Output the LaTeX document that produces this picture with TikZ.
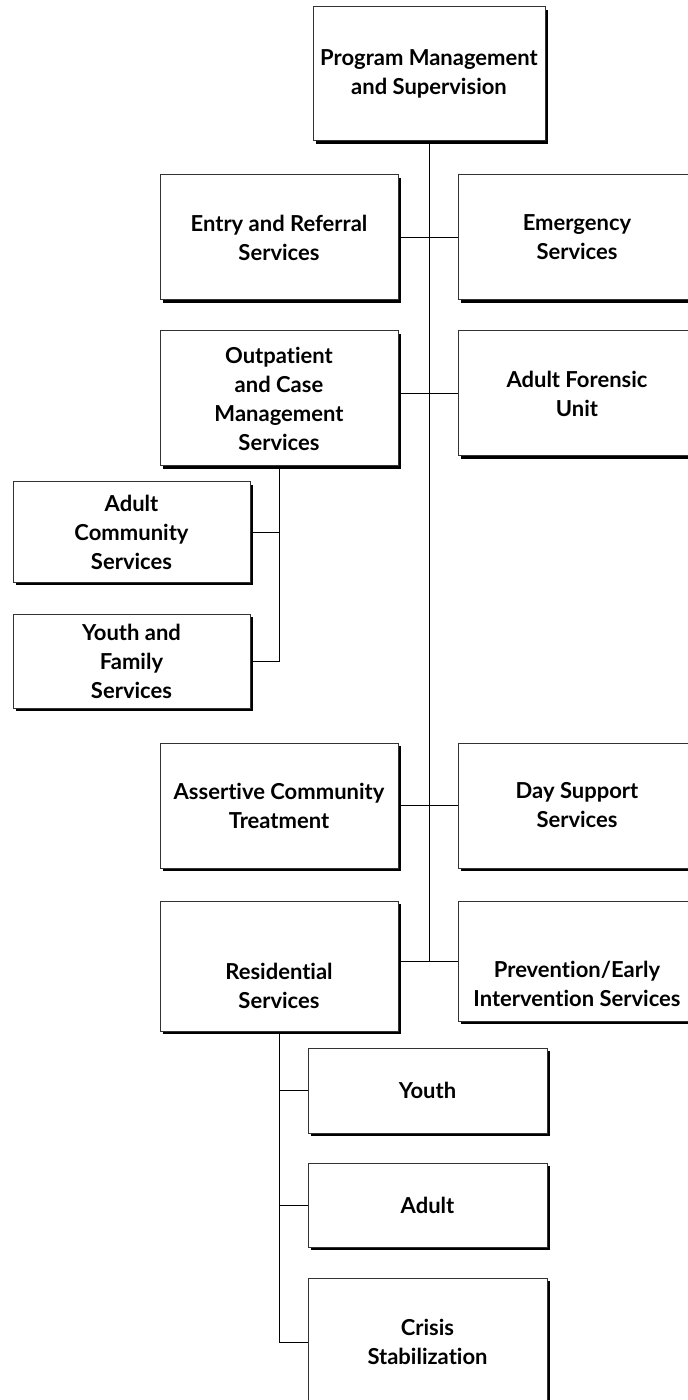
\documentclass[tikz,border=0pt]{standalone}
\usepackage{fontspec}
\setmainfont{Lato}[Ligatures={NoCommon,NoContextual}, RawFeature={-liga;-clig;-calt;-dlig}]
\usetikzlibrary{positioning, shadows}

\tikzset{
  unit/.style={draw=black!80, fill=white, line width=0.5pt, align=center,
    font=\fontsize{11}{14.5}\selectfont\bfseries, inner sep=2pt,
    minimum width=119pt, minimum height=62.5pt,
    drop shadow={shadow xshift=1.6pt, shadow yshift=-1.6pt, fill=black, opacity=1}},
  link/.style={line width=0.5pt}
}

\begin{document}
\begin{tikzpicture}[node distance=15pt]
    \useasboundingbox (0,0) rectangle (343.5pt,-700pt);

    \node[unit, minimum width=116pt, minimum height=67pt] (prog) at (214.5pt,-37pt) {Program Management\\and Supervision};
    \node[unit] (entry) at (139.5pt,-118.75pt)                        {Entry and Referral\\Services};
    \node[unit, right=29.5pt of entry]                      (emerg)   {Emergency\\Services};
    \node[unit, minimum height=67.5pt, below=of entry]      (outp)    {Outpatient\\and Case\\Management\\Services};
    \node[unit, below=of emerg]                             (foren)   {Adult Forensic\\Unit};
    \node[unit, minimum width=118.5pt, minimum height=50pt] (acomm) at (65.75pt,-266pt) {Adult\\Community\\Services};
    \node[unit, minimum width=118.5pt, minimum height=47pt, below=15.5pt of acomm] (yfam) {Youth and\\Family\\Services};
    \node[unit] (assert) at (139.5pt,-402.75pt)                       {Assertive Community\\Treatment};
    \node[unit, right=29.5pt of assert]                     (day)     {Day Support\\Services};
    \node[unit, minimum height=65pt, text height=43pt, below=16pt of assert] (resid) {Residential\\Services};
    \node[unit, minimum height=60pt, text height=46pt, below=16pt of day]    (prev)  {Prevention/Early\\Intervention Services};
    \node[unit, minimum width=119.5pt, minimum height=42.5pt] (youth) at (213.75pt,-545.25pt) {Youth};
    \node[unit, minimum width=119.5pt, minimum height=42pt, below=14.5pt of youth] (adult) {Adult};
    \node[unit, minimum width=119.5pt, minimum height=64pt, below=of adult]        (crisis) {Crisis\\Stabilization};

    \draw[link] (prog.south) -- (prog.south |- prev.west);
    \draw[link] (entry.east) -- (emerg.west);
    \draw[link] (outp.east |- foren.west) -- (foren.west);
    \draw[link] (assert.east) -- (day.west);
    \draw[link] (resid.east |- prev.west) -- (prev.west);

    \draw[link] (outp.south) -- (outp.south |- yfam.east) -- (yfam.east);
    \draw[link] (acomm.east) -- (outp.south |- acomm.east);

    \draw[link] (resid.south) -- (resid.south |- crisis.west) -- (crisis.west);
    \draw[link] (youth.west) -- (resid.south |- youth.west);
    \draw[link] (adult.west) -- (resid.south |- adult.west);
\end{tikzpicture}
\end{document}
